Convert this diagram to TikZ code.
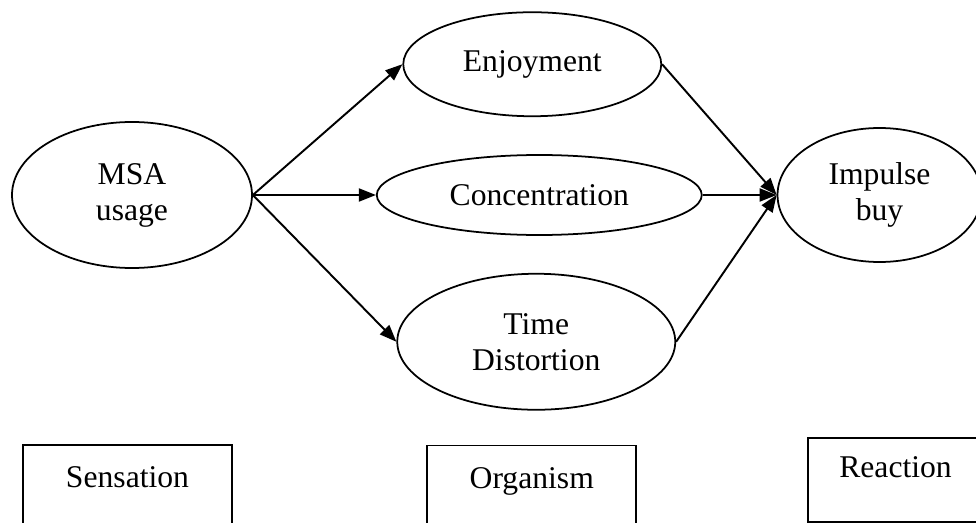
\documentclass[tikz,border=0pt]{standalone}
\usepackage{fontspec}
\setmainfont{Liberation Serif}
\usetikzlibrary{arrows.meta,positioning,shapes.geometric}

\begin{document}
\begin{tikzpicture}[
    oval/.style={ellipse,draw,line width=1pt,inner sep=0pt,align=center,
                 font=\fontsize{18}{20.5}\selectfont},
    stagebox/.style={rectangle,draw,line width=1pt,inner ysep=0pt,
                 minimum width=4.18cm,font=\fontsize{18}{20.5}\selectfont},
    >={Triangle[length=0.34cm,width=0.26cm]},line width=1.1pt
  ]
    \useasboundingbox (0,0) rectangle (19.52,10.44);
    \clip (0,0) rectangle (19.52,10.44);
    \node[oval,minimum width=4.8cm,minimum height=2.92cm] (msa) at (2.64,6.54) {MSA\\usage};
    \node[oval,minimum width=6.5cm,minimum height=1.6cm,right=2.46cm of msa] (conc) {Concentration};
    \node[oval,minimum width=5.16cm,minimum height=2.08cm,above=0.74cm of conc,xshift=-0.14cm] (enj) {Enjoyment};
    \node[oval,minimum width=5.56cm,minimum height=2.72cm,below=0.74cm of conc,xshift=-0.06cm] (td) {Time\\Distortion};
    \node[oval,minimum width=4.08cm,minimum height=2.68cm,right=1.48cm of conc] (imp) {Impulse\\buy};
    \draw[->] (msa.east) -- (enj.west);
    \draw[->] (msa.east) -- (conc.west);
    \draw[->] (msa.east) -- (td.west);
    \draw[->] (enj.east) -- (imp.west);
    \draw[->] (conc.east) -- (imp.west);
    \draw[->] (td.east) -- (imp.west);
    % S-O-R labels, first two run off the page
    \node[stagebox,text height=0.86cm,text depth=2cm,below=3.5cm of msa,xshift=-0.09cm] (sens) {Sensation};
    \node[stagebox,text height=0.86cm,text depth=2cm,below=0.68cm of td,xshift=-0.09cm] (org) {Organism};
    \node[stagebox,minimum width=3.5cm,text height=0.8cm,text depth=0.88cm,below=3.48cm of imp,xshift=0.32cm] (react) {Reaction};
  \end{tikzpicture}
\end{document}
